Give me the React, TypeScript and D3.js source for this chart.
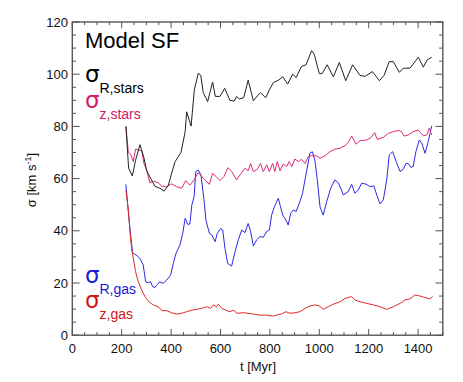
import { useEffect, useRef } from 'react';
import * as d3 from 'd3';

// sigma_R of the stars
const T_R_STARS = [217, 228, 243, 256, 274, 290, 301, 321, 335, 355, 372, 389, 402, 416, 440, 457, 463, 481, 494, 510, 520, 530, 548, 568, 579, 598, 617, 638, 656, 665, 676, 694, 712, 733, 748, 762, 783, 798, 814, 836, 852, 872, 892, 906, 928, 946, 969, 980, 1000, 1011, 1032, 1057, 1081, 1107, 1135, 1165, 1186, 1215, 1243, 1262, 1283, 1300, 1324, 1340, 1367, 1401, 1421, 1437, 1455];
const V_R_STARS = [80, 64, 61, 67, 73, 68, 63, 59.4, 57, 56.3, 55.2, 57.5, 62, 66.5, 70, 78, 85.6, 80.1, 94, 100.3, 99.6, 93, 89.5, 97, 91.5, 91.5, 94.6, 90, 89.7, 91.5, 90.5, 91, 97.7, 89.8, 91.6, 92.9, 91, 94, 96.8, 97.8, 99, 96.2, 100, 98.7, 103, 103.6, 109, 107.5, 100.2, 100.2, 103.6, 99, 104.5, 97.5, 103.6, 99.5, 99.2, 101, 97.5, 99.5, 104.8, 104.8, 100.7, 102.3, 102.3, 106.5, 102.7, 105.5, 106.5];

// sigma_z of the stars
const T_Z_STARS = [217, 227, 236, 247, 256, 267, 281, 290, 301, 314, 328, 348, 362, 382, 402, 422, 443, 459, 476, 493, 510, 530, 555, 568, 582, 598, 614, 630, 644, 665, 679, 699, 712, 722, 733, 749, 762, 773, 787, 798, 811, 820, 830, 841, 854, 868, 878, 889, 901, 915, 928, 942, 955, 969, 989, 1003, 1023, 1043, 1063, 1084, 1104, 1117, 1131, 1149, 1165, 1192, 1208, 1224, 1235, 1259, 1279, 1300, 1320, 1333, 1343, 1360, 1380, 1401, 1410, 1421, 1435, 1445, 1455];
const V_Z_STARS = [80, 70, 69.4, 66.5, 71.3, 71, 70.7, 65.8, 63.4, 58.4, 59, 58.4, 57.1, 56.9, 58, 56.9, 56.3, 59.2, 57.5, 59.5, 62.3, 60.1, 57.8, 62, 60.8, 59.2, 60.8, 64.2, 62.9, 59.5, 61.4, 64, 63, 65.8, 62.7, 63.6, 65.8, 62.7, 65.3, 62.7, 65.8, 62.7, 66.5, 63, 65.6, 64.6, 66.5, 64.6, 67.5, 66.5, 67.4, 65.8, 68.4, 68.8, 68.7, 67.8, 68.7, 70.3, 71.3, 71.6, 72.6, 73.8, 76.3, 73.2, 74.5, 74.8, 75.6, 77.6, 75, 75.8, 77.3, 78, 78.4, 78, 76.3, 76.7, 78, 78.6, 77.6, 76.4, 76.7, 79.3, 76.7];

// sigma_R of the gas
const T_R_GAS = [217, 228, 236, 244, 263, 274, 287, 297, 308, 317, 325, 335, 341, 355, 368, 382, 398, 409, 420, 436, 447, 457, 467, 476, 484, 493, 500, 510, 521, 533, 541, 555, 565, 578, 587, 601, 609, 618, 629, 645, 659, 672, 686, 699, 712, 722, 733, 746, 760, 773, 787, 798, 807, 818, 834, 843, 852, 865, 874, 884, 895, 906, 919, 932, 942, 951, 962, 972, 982, 992, 1003, 1016, 1030, 1046, 1063, 1077, 1090, 1097, 1117, 1131, 1144, 1158, 1171, 1189, 1205, 1221, 1235, 1246, 1259, 1273, 1283, 1297, 1313, 1327, 1340, 1351, 1360, 1371, 1380, 1391, 1405, 1415, 1428, 1441, 1455];
const V_R_GAS = [57.8, 46, 38.5, 31.6, 30.4, 29.4, 26.9, 20.5, 20.1, 20.5, 18.6, 18.3, 19.2, 20.4, 19.9, 21.1, 23, 27.5, 31.4, 34.6, 39, 44.8, 42.5, 42.6, 49.9, 53, 62.7, 63.3, 61.4, 52, 44.1, 39, 38.4, 35.8, 39, 40.9, 40.3, 33.3, 27.5, 26.5, 32, 36.5, 40.3, 39.3, 42.8, 39.7, 34.2, 36.5, 37.8, 37.5, 39.7, 40.3, 46, 49.2, 52.5, 49.2, 46, 44.1, 42.2, 46.7, 48, 47.4, 50.5, 54.3, 59.5, 64, 69.7, 70.3, 67.1, 59.5, 49.2, 46, 51.2, 56.3, 59.5, 58.4, 55.6, 53.7, 55, 57.8, 54.4, 55.6, 58.2, 57.9, 56.9, 57.2, 53, 50.3, 51.8, 59.5, 69, 70.3, 66.1, 62.7, 63.6, 65.8, 65.8, 64.3, 64.6, 70.3, 74.8, 73.6, 69.7, 74.2, 80.2];

// sigma_z of the gas
const T_Z_GAS = [217, 227, 233, 240, 247, 256, 267, 281, 294, 310, 328, 348, 362, 382, 402, 422, 443, 463, 483, 503, 524, 544, 560, 571, 584, 591, 605, 622, 638, 652, 668, 692, 712, 733, 760, 787, 811, 827, 847, 865, 881, 901, 922, 942, 962, 982, 1000, 1016, 1036, 1057, 1084, 1104, 1131, 1144, 1165, 1192, 1219, 1246, 1273, 1300, 1327, 1347, 1367, 1387, 1408, 1428, 1448, 1459];
const V_Z_GAS = [55.6, 48, 40.3, 33.3, 29.4, 24.4, 20.5, 17.3, 14.8, 12.8, 11.6, 10.9, 9.4, 9.4, 8.6, 8.1, 8.4, 9, 9.6, 9.9, 10.3, 10.9, 10.3, 11.6, 10.9, 11.9, 10.3, 9.6, 9, 9.6, 8.4, 8.6, 8.4, 8.1, 7.7, 7.7, 7.3, 7.7, 8.1, 9, 8.4, 8.6, 9, 10.3, 11.2, 11.6, 11.2, 9.9, 10.9, 11.9, 12.8, 14.1, 14.8, 13.5, 12.8, 12.2, 11.6, 10.9, 9.9, 10.9, 12.2, 13.5, 13.9, 15.4, 15, 14.4, 13.9, 14.8];

const X_TICKS = [0, 200, 400, 600, 800, 1000, 1200, 1400];
const Y_TICKS = [0, 20, 40, 60, 80, 100, 120];

const SERIES = [
  { t: T_R_GAS, v: V_R_GAS, color: '#2a2ae6' },
  { t: T_Z_GAS, v: V_Z_GAS, color: '#e02a2a' },
  { t: T_Z_STARS, v: V_Z_STARS, color: '#dc2a78' },
  { t: T_R_STARS, v: V_R_STARS, color: '#222222' },
];

const LEGEND = [
  { sub: 'R,stars', color: '#000000', y: 82 },
  { sub: 'z,stars', color: '#d21868', y: 108 },
  { sub: 'R,gas', color: '#1a1ad8', y: 283 },
  { sub: 'z,gas', color: '#d01414', y: 308 },
];

export default function App() {
  const svgRef = useRef<SVGSVGElement>(null);

  useEffect(() => {
    if (!svgRef.current) return;
    const svg = d3.select(svgRef.current);
    svg.selectAll('*').remove();

    const left = 72.3, right = 442.8, top = 22, bottom = 335.2;
    const x = d3.scaleLinear().domain([0, 1500]).range([left, right]);
    const y = d3.scaleLinear().domain([0, 120]).range([bottom, top]);
    const font = 'Liberation Sans, Arial, sans-serif';
    const axisColor = '#555';

    const g = svg.append('g');

    // Series
    const line = d3.line<[number, number]>().x(d => x(d[0])).y(d => y(d[1]));
    SERIES.forEach(s => {
      const pts = s.t.map((t, i) => [t, s.v[i]] as [number, number]);
      g.append('path')
        .attr('d', line(pts))
        .attr('fill', 'none')
        .attr('stroke', s.color)
        .attr('stroke-width', 1)
        .attr('stroke-linejoin', 'round');
    });

    // Frame
    g.append('rect')
      .attr('x', left).attr('y', top)
      .attr('width', right - left).attr('height', bottom - top)
      .attr('fill', 'none').attr('stroke', axisColor).attr('stroke-width', 1.4);

    // Ticks on all four sides
    const xLen = 6.3, yLen = 7.4;
    d3.range(0, 1501, 50).forEach(t => {
      const major = t % 200 === 0;
      const len = major ? xLen : xLen / 2;
      g.append('line').attr('x1', x(t)).attr('x2', x(t)).attr('y1', bottom).attr('y2', bottom - len)
        .attr('stroke', axisColor).attr('stroke-width', 1);
      g.append('line').attr('x1', x(t)).attr('x2', x(t)).attr('y1', top).attr('y2', top + len)
        .attr('stroke', axisColor).attr('stroke-width', 1);
    });
    d3.range(0, 121, 5).forEach(v => {
      const major = v % 20 === 0;
      const len = major ? yLen : yLen / 2;
      g.append('line').attr('x1', left).attr('x2', left + len).attr('y1', y(v)).attr('y2', y(v))
        .attr('stroke', axisColor).attr('stroke-width', 1);
      g.append('line').attr('x1', right).attr('x2', right - len).attr('y1', y(v)).attr('y2', y(v))
        .attr('stroke', axisColor).attr('stroke-width', 1);
    });

    // Tick labels
    g.selectAll('text.xt').data(X_TICKS).join('text')
      .attr('class', 'xt')
      .attr('x', d => x(d)).attr('y', 353)
      .attr('text-anchor', 'middle')
      .attr('font-family', font).attr('font-size', 13).attr('fill', '#111')
      .text(d => d);
    g.selectAll('text.yt').data(Y_TICKS).join('text')
      .attr('class', 'yt')
      .attr('x', 68).attr('y', d => y(d) + 4.5)
      .attr('text-anchor', 'end')
      .attr('font-family', font).attr('font-size', 13).attr('fill', '#111')
      .text(d => d);

    // Axis titles
    g.append('text')
      .attr('x', 258).attr('y', 371)
      .attr('text-anchor', 'middle')
      .attr('font-family', font).attr('font-size', 13).attr('fill', '#111')
      .text('t [Myr]');
    const yl = g.append('text')
      .attr('transform', 'translate(36,180) rotate(-90)')
      .attr('text-anchor', 'middle')
      .attr('font-family', font).attr('font-size', 13).attr('fill', '#111');
    yl.append('tspan').text('σ [km s');
    yl.append('tspan').attr('font-size', 9).attr('dy', -5).text('-1');
    yl.append('tspan').attr('dy', 5).text(']');

    // Title
    g.append('text')
      .attr('x', 85).attr('y', 48)
      .attr('font-family', font).attr('font-size', 22).attr('fill', '#000')
      .text('Model SF');

    // Legend
    LEGEND.forEach(l => {
      g.append('text')
        .attr('x', 85).attr('y', l.y)
        .attr('font-family', 'DejaVu Sans, sans-serif').attr('font-size', 23).attr('fill', l.color)
        .text('σ');
      g.append('text')
        .attr('x', 99.5).attr('y', l.y + 10.5)
        .attr('font-family', font).attr('font-size', 14).attr('fill', l.color)
        .text(l.sub);
    });
  }, []);

  return (
    <svg
      ref={svgRef}
      width={463}
      height={382}
      style={{ position: 'absolute', left: 0, top: 0, background: '#fff' }}
    />
  );
}
